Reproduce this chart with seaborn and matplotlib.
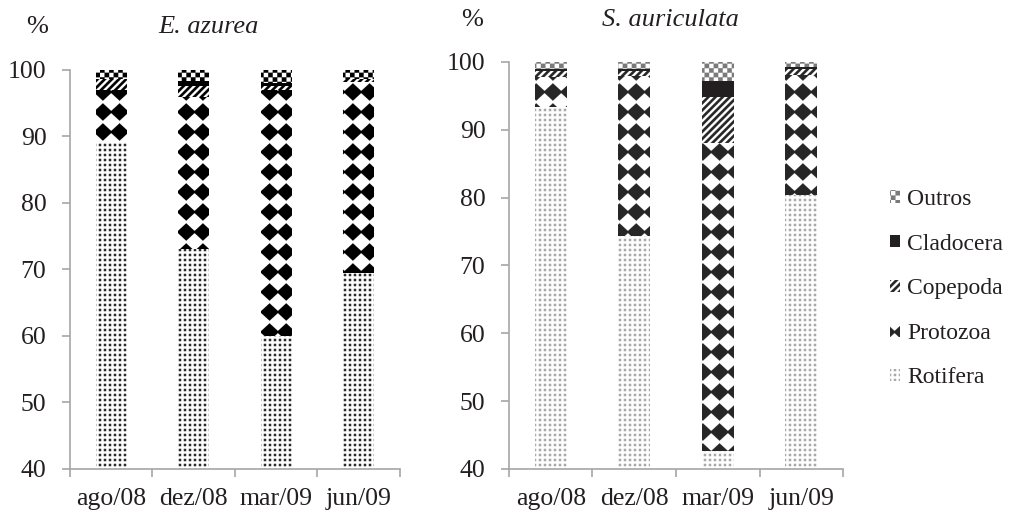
import numpy as np
import pandas as pd
import matplotlib
matplotlib.use('Agg')
import matplotlib.pyplot as plt
import seaborn as sns
from matplotlib import hatch as mhatch
from matplotlib.path import Path

# data (% of total density)
months = ['ago/08', 'dez/08', 'mar/09', 'jun/09']
groups = ['Rotifera', 'Protozoa', 'Copepoda', 'Cladocera', 'Outros']

azurea_rotifera = [89.0, 73.1, 60.0, 69.5]
azurea_protozoa = [8.0, 22.8, 37.0, 28.7]
azurea_copepoda = [1.6, 1.7, 0.6, 0.4]
azurea_cladocera = [0.0, 0.8, 0.5, 0.0]
azurea_outros = [1.4, 1.6, 1.9, 1.4]

auric_rotifera = [93.3, 74.4, 42.6, 80.4]
auric_protozoa = [4.5, 23.5, 45.5, 17.7]
auric_copepoda = [0.8, 0.7, 6.7, 0.9]
auric_cladocera = [0.3, 0.3, 2.4, 0.3]
auric_outros = [1.1, 1.1, 2.8, 0.7]

# Excel-like fill patterns. matplotlib has no diamond or checker hatch, so the
# hatch shapes are replaced by filled polygons on the 1 inch (100 px) hatch tile
PX = 1 / 100


def box(cx, cy, rx, ry, diamond=False):
    if diamond:
        return [(cx, cy - ry), (cx + rx, cy), (cx, cy + ry), (cx - rx, cy), (cx, cy - ry)]
    return [(cx - rx, cy - ry), (cx + rx, cy - ry), (cx + rx, cy + ry), (cx - rx, cy + ry), (cx - rx, cy - ry)]


def diamonds(nx=6, ny=5, dx=2.9 * PX, dy=-0.12):
    # offsets put a diamond in the middle of each bar, like the original
    return [box(i / nx + dx, j / ny + dy, 9.4 * PX, 8.7 * PX, diamond=True)
            for i in range(-1, nx + 1) for j in range(0, ny + 2)]


def dots(n=20):
    return [box(i / n, j / n, 1.15 * PX, 1.15 * PX) for i in range(n + 1) for j in range(n + 1)]


def checker(n=22):
    h = 0.5 / n
    return [box((i + 0.5) / n, (j + 0.5) / n, h, h)
            for i in range(n) for j in range(n) if (i + j) % 2 == 0]


def stripes(n=14):
    w = 0.5 / n
    out = []
    for k in range(-n, n + 1):
        c = k / n
        out.append([(0, c), (1, 1 + c), (1, 1 + c + w), (0, c + w), (0, c)])
    return out


class ShapeHatch(mhatch.HatchPatternBase):
    shapes = {'*': diamonds(), 'o': dots(), 'O': checker(), '/': stripes()}

    def __init__(self, hatch, density):
        self.polys = [p for c, ps in self.shapes.items() if c in hatch for p in ps]
        self.num_vertices = 5 * len(self.polys)

    def set_vertices_and_codes(self, vertices, codes):
        vertices[:] = np.array(self.polys, dtype=float).reshape(-1, 2)
        codes[:] = np.tile([Path.MOVETO, Path.LINETO, Path.LINETO, Path.LINETO, Path.CLOSEPOLY],
                           len(self.polys))


mhatch._hatch_types = [ShapeHatch]

sns.set_style('ticks')
plt.rcParams['font.family'] = ['Liberation Serif', 'DejaVu Serif']
plt.rcParams['hatch.linewidth'] = 0.1

hatches = {'Rotifera': 'o', 'Protozoa': '*', 'Copepoda': '/', 'Cladocera': '', 'Outros': 'O'}
left_colors = {'Rotifera': '#2a2a2a', 'Protozoa': '#000000', 'Copepoda': '#000000',
               'Cladocera': '#000000', 'Outros': '#000000'}
right_colors = {'Rotifera': '#a8a8a8', 'Protozoa': '#262626', 'Copepoda': '#262626',
                'Cladocera': '#231f20', 'Outros': '#7a7a7a'}

fig = plt.figure(figsize=(10.19, 5.16), dpi=100)
ax1 = fig.add_axes([0.0687, 0.0911, 0.3238, 0.7733])
ax2 = fig.add_axes([0.4995, 0.0911, 0.3278, 0.7888])


def panel(ax, layers, colors):
    tops = np.cumsum(layers, axis=0)
    # cumulative bars drawn from the top layer down, each one hides the part below
    for k in range(len(groups) - 1, -1, -1):
        name = groups[k]
        df = pd.DataFrame({'mes': months, 'pct': tops[k]})
        face = colors[name] if name == 'Cladocera' else 'white'
        sns.barplot(data=df, x='mes', y='pct', ax=ax, width=0.38, color=face, saturation=1,
                    edgecolor=colors[name], hatch=hatches[name], linewidth=0, label=name)
    if ax.get_legend() is not None:
        ax.get_legend().remove()

    ax.set_ylim(40, 100)
    ax.set_xlim(-0.5, 3.5)
    ax.set_yticks(range(40, 101, 10))
    ax.set_xticks(range(4))
    ax.set_xticklabels(months)
    ax.set_xticks(np.arange(-0.5, 4, 1), minor=True)
    ax.set_xlabel('')
    ax.set_ylabel('')
    sns.despine(ax=ax)
    for s in ['left', 'bottom']:
        ax.spines[s].set_color('#a6a6a6')
        ax.spines[s].set_linewidth(1.2)
    ax.tick_params(axis='y', length=6, width=1.2, color='#a6a6a6', labelsize=18.5,
                   labelcolor='#231f20', pad=11)
    ax.tick_params(axis='x', which='major', length=0, labelsize=18.5, labelcolor='#231f20', pad=14)
    ax.tick_params(axis='x', which='minor', length=6, width=1.2, color='#a6a6a6')


panel(ax1, [azurea_rotifera, azurea_protozoa, azurea_copepoda, azurea_cladocera, azurea_outros],
      left_colors)
panel(ax2, [auric_rotifera, auric_protozoa, auric_copepoda, auric_cladocera, auric_outros],
      right_colors)

fig.text(37 / 1019, 1 - 27 / 516, '%', fontsize=19, ha='center', va='center', color='#231f20')
fig.text(209 / 1019, 1 - 27 / 516, 'E. azurea', fontsize=19, style='italic',
         ha='center', va='center', color='#231f20')
fig.text(472 / 1019, 1 - 20 / 516, '%', fontsize=19, ha='center', va='center', color='#231f20')
fig.text(670 / 1019, 1 - 20 / 516, 'S. auriculata', fontsize=19, style='italic',
         ha='center', va='center', color='#231f20')

handles, labels = ax2.get_legend_handles_labels()
fig.legend(handles, labels, loc='upper left', bbox_to_anchor=(890 / 1019, 1 - 189 / 516),
           frameon=False, fontsize=17, handlelength=0.42, handleheight=0.42, handletextpad=0.3,
           labelspacing=1.0, borderpad=0, borderaxespad=0, labelcolor='#231f20')

fig.savefig('out.png', dpi=100)
